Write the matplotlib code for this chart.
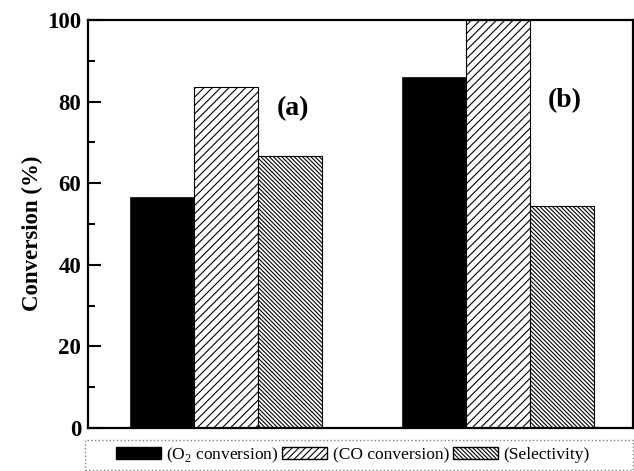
import numpy as np
import matplotlib
matplotlib.use("Agg")
import matplotlib.pyplot as plt
from matplotlib.patches import Patch, Rectangle

plt.rcParams['font.family'] = ['Liberation Serif', 'DejaVu Serif']
plt.rcParams['mathtext.fontset'] = 'custom'
plt.rcParams['mathtext.rm'] = 'Liberation Serif'
plt.rcParams['hatch.linewidth'] = 0.8

samples = ["(a)", "(b)"]
o2_conversion = [56.5, 86.0]
co_conversion = [83.6, 100.0]
selectivity = [66.7, 54.4]
series_names = ["(O$_\\mathrm{2}$ conversion)", "(CO conversion)", "(Selectivity)"]

fig = plt.figure(figsize=(6.34, 4.71), dpi=100)
ax = fig.add_axes([0.139, 0.0913, 0.859, 0.8662])

x = np.arange(len(samples))
w = 0.235
ax.bar(x - w, o2_conversion, w, color="black", edgecolor="black", linewidth=0.5)
ax.bar(x, co_conversion, w, color="white", edgecolor="black", hatch="////", linewidth=0.8)
ax.bar(x + w, selectivity, w, color="white", edgecolor="black", hatch="\\" * 8, linewidth=0.8)

label_y = [78.4, 80.3]
for xi, lab, ly in zip(x, samples, label_y):
    ax.text(xi + 0.247, ly, lab, ha="center", va="center",
            fontsize=20, fontweight="bold")

ax.set_xlim(-0.507, 1.496)
ax.set_ylim(0, 100)
ax.set_xticks([])
ax.set_yticks(np.arange(0, 101, 20))
ax.set_yticks(np.arange(10, 100, 20), minor=True)
ax.tick_params(axis="y", direction="in", length=9, width=1.5, labelsize=16.5, pad=5)
ax.tick_params(axis="y", which="minor", direction="in", length=5, width=1.5)
for lbl in ax.get_yticklabels():
    lbl.set_fontweight("bold")
for s in ax.spines.values():
    s.set_linewidth(1.6)
ax.set_ylabel("Conversion (%)", fontsize=16.5, fontweight="bold")
ax.yaxis.set_label_coords(-0.083, 0.478)

# legend box drawn across the full width under the axes
fig.add_artist(Rectangle((85 / 634, 1 / 471), 548 / 634, 30 / 471, transform=fig.transFigure,
                         fill=False, edgecolor="0.5", linestyle=":", linewidth=1.0))
handles = [Patch(facecolor="black", edgecolor="black"),
           Patch(facecolor="white", edgecolor="black", hatch="/////"),
           Patch(facecolor="white", edgecolor="black", hatch="\\" * 8)]
fig.legend(handles, series_names, loc="center", bbox_to_anchor=(0.556, 0.034),
           ncol=3, fontsize=12.5, frameon=False,
           handlelength=2.6, handleheight=0.75, handletextpad=0.3, columnspacing=0.2,
           borderpad=0.1)

fig.savefig("out.png", dpi=100)
